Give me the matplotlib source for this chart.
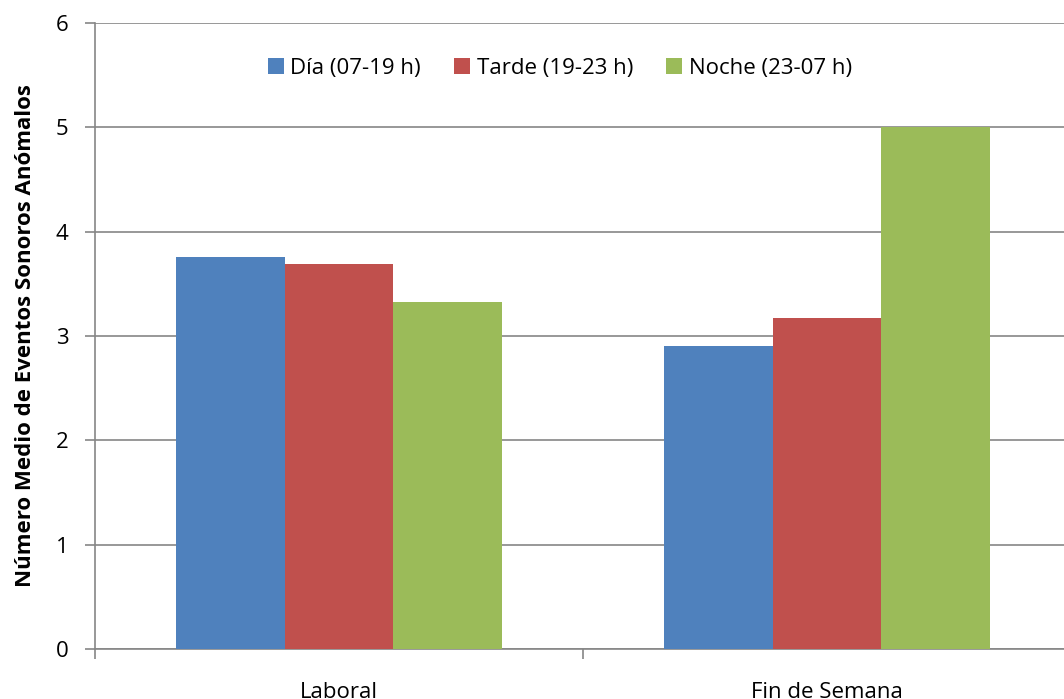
import matplotlib
matplotlib.use("Agg")
import matplotlib.pyplot as plt
import numpy as np

categories = ["Laboral", "Fin de Semana"]
series_names = ["Día (07-19 h)", "Tarde (19-23 h)", "Noche (23-07 h)"]
dia = [3.76, 2.90]
tarde = [3.69, 3.17]
noche = [3.33, 5.00]
colors = ["#4F81BD", "#C0504D", "#9BBB59"]
yticks = [0, 1, 2, 3, 4, 5, 6]

plt.rcParams['font.family'] = ['Open Sans', 'DejaVu Sans']

fig = plt.figure(figsize=(10.64, 6.99), dpi=100)
ax = fig.add_axes([95/1064, 50/699, (1071-95)/1064, (649-23)/699])

x = np.arange(len(categories))
w = 1/4.5
for i, (vals, name, c) in enumerate(zip([dia, tarde, noche], series_names, colors)):
    ax.bar(x + (i-1)*w, vals, width=w, color=c, label=name, zorder=3,
           edgecolor='none')

ax.set_xlim(-0.5, 1.5)
ax.set_ylim(0, 6)
ax.set_yticks(yticks)
ax.set_yticklabels([str(t) for t in yticks], fontsize=16)
ax.yaxis.grid(True, color='#868686', linewidth=1.2, zorder=0)
ax.set_axisbelow(True)

ax.set_xticks(x)
ax.set_xticklabels(categories, fontsize=16)
ax.tick_params(axis='x', which='major', length=0, pad=24)
ax.set_xticks([-0.5, 0.5, 1.5], minor=True)
ax.tick_params(axis='x', which='minor', length=7, width=1.2, color='#868686', direction='out')
ax.tick_params(axis='y', length=7, width=1.2, color='#868686', direction='out', pad=12)

for s in ['top', 'right']:
    ax.spines[s].set_visible(False)
for s in ['left', 'bottom']:
    ax.spines[s].set_color('#868686')
    ax.spines[s].set_linewidth(1.2)

ax.set_ylabel("Número Medio de Eventos Sonoros Anómalos", fontsize=16,
              fontweight='bold', labelpad=14)

leg = ax.legend(loc='upper center', ncol=3, frameon=False, fontsize=16,
                handlelength=0.7, handleheight=0.7,
                handletextpad=0.3, columnspacing=1.5)
leg.set_bbox_to_anchor((560/1064, 1 - 38/699), transform=fig.transFigure)

fig.savefig("out.png", dpi=100)
